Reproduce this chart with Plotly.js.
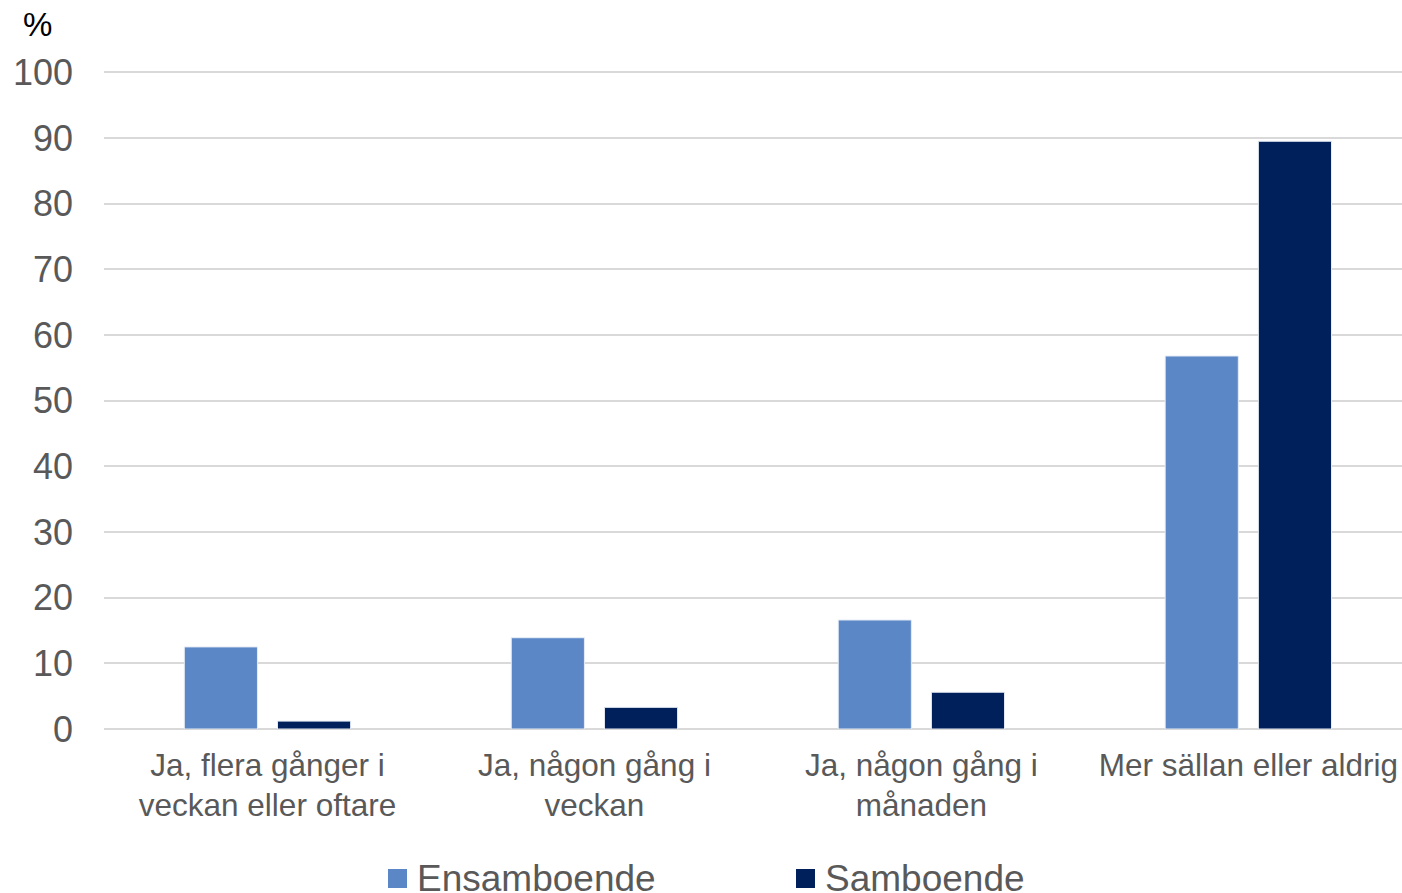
<!DOCTYPE html>
<html><head><meta charset="utf-8">
<script src="https://cdn.plot.ly/plotly-3.0.1.min.js"></script>
<style>html,body{margin:0;padding:0;background:#fff;}#chart{width:1402px;height:893px;}</style>
</head><body><div id="chart"></div>
<script>
const categories = ["Ja, flera gånger i<br>veckan eller oftare", "Ja, någon gång i<br>veckan", "Ja, någon gång i<br>månaden", "Mer sällan eller aldrig"];
const seriesNames = ["Ensamboende", "Samboende"];
const ensamboende = [12.5, 13.9, 16.6, 56.8];
const samboende = [1.2, 3.3, 5.6, 89.5];
const yTicks = [0, 10, 20, 30, 40, 50, 60, 70, 80, 90, 100];
const colors = ["#5B87C7", "#00205B"];

const traces = [
  {type: "bar", name: seriesNames[0], x: [0,1,2,3], y: ensamboende, marker: {color: colors[0], line: {color: "#e6ecf5", width: 1}}, hoverinfo: "skip"},
  {type: "bar", name: seriesNames[1], x: [0,1,2,3], y: samboende, marker: {color: colors[1], line: {color: "#e6ecf5", width: 1}}, hoverinfo: "skip"}
];

const TOP = 69, BOTTOM = 729, PH = BOTTOM - TOP;
const legendAnn = [];
const legendShapes = [];
const legX = [388, 796];
seriesNames.forEach((n, i) => {
  legendShapes.push({type: "rect", xref: "paper", yref: "paper",
    x0: (legX[i] - 104) / 1298, x1: (legX[i] + 19 - 104) / 1298,
    y0: -(888 - BOTTOM) / PH, y1: -(869 - BOTTOM) / PH,
    fillcolor: colors[i], line: {width: 0}});
  legendAnn.push({xref: "paper", yref: "paper", x: (legX[i] + 27 - 104) / 1298, y: -(878 - BOTTOM) / PH,
    xanchor: "left", yanchor: "middle", showarrow: false, text: n,
    font: {family: "Liberation Sans, Arial, sans-serif", size: 37, color: "#595959"}});
});

const layout = {
  width: 1402, height: 893,
  margin: {l: 104, r: 0, t: TOP, b: 893 - BOTTOM},
  paper_bgcolor: "#fff", plot_bgcolor: "#fff",
  showlegend: false,
  barmode: "group", bargap: 0.43, bargroupgap: 0.215,
  font: {family: "Liberation Sans, Arial, sans-serif", color: "#595959"},
  xaxis: {range: [-0.5, 3.47], tickmode: "array", tickvals: [0,1,2,3], ticktext: categories,
    tickfont: {size: 31.5, color: "#595959"}, showgrid: false, zeroline: false, showline: false, ticks: "",
    ticklabelstandoff: 14, fixedrange: true},
  yaxis: {range: [0, 100.5], tickmode: "array", tickvals: yTicks, ticktext: yTicks.map(String),
    tickfont: {size: 36, color: "#595959"}, showgrid: true, gridcolor: "#d9d9d9", gridwidth: 2,
    zeroline: true, zerolinecolor: "#d9d9d9", zerolinewidth: 2, showline: false, ticks: "", ticklabelstandoff: 30, fixedrange: true},
  shapes: legendShapes,
  annotations: [
    {xref: "paper", yref: "paper", x: -(104 - 21) / 1298, y: 1 + (TOP - 24) / PH, xanchor: "left", yanchor: "middle",
     showarrow: false, text: "%", font: {family: "Liberation Sans, Arial, sans-serif", size: 33, color: "#000"}}
  ].concat(legendAnn)
};

Plotly.newPlot("chart", traces, layout, {displayModeBar: false, staticPlot: true});
</script></body></html>
